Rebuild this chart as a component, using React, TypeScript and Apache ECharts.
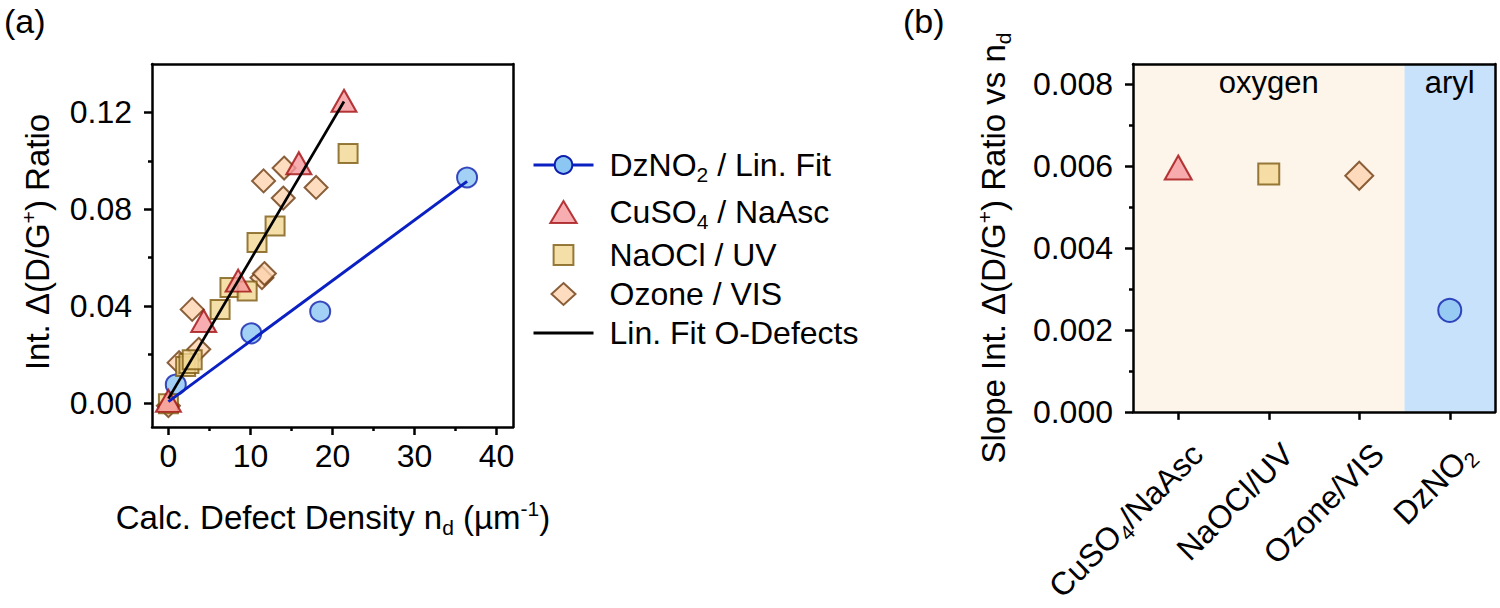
import React, { useEffect, useRef } from 'react';
import * as echarts from 'echarts';

// ---------- Data (panel a) ----------
const dzX = [0.9, 10.1, 18.5, 36.4];
const dzY = [0.0075, 0.0287, 0.0377, 0.0931];
const dzFitX = [0, 36.4];
const dzFitY = [0.0005, 0.0915];
const cuX = [0, 4.3, 8.5, 15.9, 21.4];
const cuY = [0.0008, 0.0338, 0.0505, 0.0990, 0.1248];
const naX = [0, 2.1, 2.5, 2.9, 6.3, 7.5, 9.6, 10.8, 13.0, 21.9];
const naY = [-0.0004, 0.0150, 0.0162, 0.0178, 0.0386, 0.0476, 0.0462, 0.0662, 0.0731, 0.1030];
const ozX = [0, 1.3, 2.9, 3.7, 11.4, 11.7, 11.6, 14.0, 14.1, 18.0];
const ozY = [-0.0012, 0.0166, 0.0386, 0.0221, 0.0517, 0.0534, 0.0917, 0.0846, 0.0970, 0.0890];
const oFitX = [0, 21.4];
const oFitY = [0.0017, 0.1245];
const xTicksA = [0, 10, 20, 30, 40];
const xMinorA = [5, 15, 25, 35];
const yTicksA = [0, 0.04, 0.08, 0.12];
const yMinorA = [0.02, 0.06, 0.1];

// ---------- Data (panel b) ----------
const catsB = ['CuSO4/NaAsc', 'NaOCl/UV', 'Ozone/VIS', 'DzNO2'];
const slopesB = [0.00597, 0.00581, 0.00577, 0.00248];
const yTicksB = [0, 0.002, 0.004, 0.006, 0.008];
const yMinorB = [0.001, 0.003, 0.005, 0.007];
const regionsB = [
  { name: 'oxygen', from: 0, to: 3 },
  { name: 'aryl', from: 3, to: 4 },
];

// ---------- Styles ----------
const F = '"Liberation Sans", Arial, Helvetica, sans-serif';
const BLACK = '#000';
const AX = { color: BLACK, width: 2.5 };
const circleSt = { color: '#8CC6F3', borderColor: '#0E1FAE', borderWidth: 2 };
const triSt = { color: '#F6999D', borderColor: '#A10E10', borderWidth: 2 };
const sqSt = { color: '#F3D794', borderColor: '#7C5A12', borderWidth: 2 };
const diaSt = { color: '#FDD3AF', borderColor: '#6C3B10', borderWidth: 2 };
const BLUE_LINE = '#0A20C2';
const TICK_FS = 32;
const TITLE_FS = 33;

const mkRich = (fs: number, lh = fs + 6) => ({
  n: { fontSize: fs, fontFamily: F, color: BLACK, lineHeight: lh },
  s: { fontSize: Math.round(fs * 0.65), fontFamily: F, color: BLACK, lineHeight: lh, padding: [Math.round(fs * 0.6), 0, 0, 0] },
  p: { fontSize: Math.round(fs * 0.65), fontFamily: F, color: BLACK, lineHeight: lh, padding: [0, 0, Math.round(fs * 0.55), 0] },
});

const N_DZ = 'DzNO2 / Lin. Fit';
const N_CU = 'CuSO4 / NaAsc';
const N_NA = 'NaOCl / UV';
const N_OZ = 'Ozone / VIS';
const N_OF = 'Lin. Fit O-Defects';
const legendRich: Record<string, string> = {
  [N_DZ]: '{n|DzNO}{s|2}{n| / Lin. Fit}',
  [N_CU]: '{n|CuSO}{s|4}{n| / NaAsc}',
  [N_NA]: '{n|NaOCl / UV}',
  [N_OZ]: '{n|Ozone / VIS}',
  [N_OF]: '{n|Lin. Fit O-Defects}',
};
const catRich: Record<string, string> = {
  'CuSO4/NaAsc': '{n|CuSO}{s|4}{n|/NaAsc}',
  'NaOCl/UV': '{n|NaOCl/UV}',
  'Ozone/VIS': '{n|Ozone/VIS}',
  DzNO2: '{n|DzNO}{s|2}',
};

const zip = (a: number[], b: number[]) => a.map((v, i) => [v, b[i]]);

const lineOnly = (gridIndex: number, position: string, min: number, max: number, z = 10) => ({
  gridIndex, type: 'value', position, min, max, z,
  axisLine: { show: true, onZero: false, lineStyle: AX },
  axisTick: { show: false }, axisLabel: { show: false }, splitLine: { show: false },
});
const minorAxis = (gridIndex: number, position: string, min: number, max: number, vals: number[]) => ({
  gridIndex, type: 'value', position, min, max, z: 10,
  axisLine: { show: false, onZero: false },
  axisTick: { show: true, customValues: vals, length: 4, lineStyle: AX },
  axisLabel: { show: false }, splitLine: { show: false },
});

const labelStyle = { fontSize: TICK_FS, fontFamily: F, color: BLACK };

const option: any = {
  animation: false,
  backgroundColor: '#fff',
  grid: [
    { left: 152, top: 64, width: 361, height: 363 },
    { left: 1133, top: 64, width: 362, height: 362 },
  ],
  xAxis: [
    {
      gridIndex: 0, type: 'value', position: 'bottom', min: -2, max: 42, z: 10,
      axisLine: { show: true, onZero: false, lineStyle: AX },
      axisTick: { show: true, customValues: xTicksA, length: 8, lineStyle: AX },
      axisLabel: { customValues: xTicksA, margin: 13, ...labelStyle },
      splitLine: { show: false },
    },
    minorAxis(0, 'bottom', -2, 42, xMinorA),
    lineOnly(0, 'top', -2, 42),
    {
      gridIndex: 1, type: 'category', position: 'bottom', data: catsB, boundaryGap: true, z: 10,
      axisLine: { show: true, onZero: false, lineStyle: AX },
      axisTick: { show: true, alignWithLabel: true, length: 8, lineStyle: AX },
      axisLabel: {
        interval: 0, rotate: 45, margin: 18, align: 'right', verticalAlign: 'top',
        formatter: (v: string) => catRich[v] || v,
        rich: mkRich(TICK_FS, 54),
      },
      splitLine: { show: false },
    },
    { gridIndex: 1, type: 'value', min: 0, max: 4, show: false, position: 'bottom', axisLine: { onZero: false } },
    lineOnly(1, 'top', 0, 4),
  ],
  yAxis: [
    {
      gridIndex: 0, type: 'value', position: 'left', min: -0.01, max: 0.14, z: 10,
      axisLine: { show: true, onZero: false, lineStyle: AX },
      axisTick: { show: true, customValues: yTicksA, length: 8, lineStyle: AX },
      axisLabel: { customValues: yTicksA, margin: 20, formatter: (v: number) => v.toFixed(2), ...labelStyle },
      splitLine: { show: false },
    },
    minorAxis(0, 'left', -0.01, 0.14, yMinorA),
    lineOnly(0, 'right', -0.01, 0.14),
    {
      gridIndex: 1, type: 'value', position: 'left', min: 0, max: 0.0085, z: 10,
      axisLine: { show: true, onZero: false, lineStyle: AX },
      axisTick: { show: true, customValues: yTicksB, length: 8, lineStyle: AX },
      axisLabel: { customValues: yTicksB, margin: 20, formatter: (v: number) => v.toFixed(3), ...labelStyle },
      splitLine: { show: false },
    },
    minorAxis(1, 'left', 0, 0.0085, yMinorB),
    lineOnly(1, 'right', 0, 0.0085),
  ],
  legend: {
    orient: 'vertical', left: 532, top: 145, padding: 0,
    itemWidth: 60, itemHeight: 22, itemGap: 7,
    selectedMode: false,
    lineStyle: { width: 3 },
    textStyle: { fontSize: 32, fontFamily: F, color: BLACK, padding: [0, 0, 0, 11], rich: mkRich(32) },
    formatter: (name: string) => legendRich[name] || name,
    data: [
      { name: N_DZ },
      { name: N_CU, icon: 'path://M12,0L24,20H0Z' },
      { name: N_NA, icon: 'path://M-1,-1M19,19M0,0H18V18H0Z' },
      { name: N_OZ, icon: 'path://M12,0L24,11L12,22L0,11Z' },
      { name: N_OF, icon: 'path://M0,0H60V3H0Z', itemStyle: { color: BLACK, borderWidth: 0 } },
    ],
  },
  series: [
    {
      type: 'line', name: N_DZ, xAxisIndex: 0, yAxisIndex: 0, data: zip(dzFitX, dzFitY),
      symbol: 'circle', symbolSize: 20, showSymbol: false, silent: true,
      lineStyle: { color: BLUE_LINE, width: 3 }, itemStyle: circleSt,
    },
    {
      type: 'line', name: N_OF, xAxisIndex: 0, yAxisIndex: 0, data: zip(oFitX, oFitY),
      symbol: 'none', silent: true, color: BLACK,
      lineStyle: { color: BLACK, width: 2.7 }, itemStyle: { color: BLACK },
    },
    {
      type: 'scatter', name: N_DZ, xAxisIndex: 0, yAxisIndex: 0, data: zip(dzX, dzY),
      symbol: 'circle', symbolSize: 20, itemStyle: circleSt,
    },
    {
      type: 'scatter', name: N_OZ, xAxisIndex: 0, yAxisIndex: 0, data: zip(ozX, ozY),
      symbol: 'diamond', symbolSize: [23, 23], itemStyle: diaSt,
    },
    {
      type: 'scatter', name: N_NA, xAxisIndex: 0, yAxisIndex: 0, data: zip(naX, naY),
      symbol: 'rect', symbolSize: 19, itemStyle: sqSt,
    },
    {
      type: 'scatter', name: N_CU, xAxisIndex: 0, yAxisIndex: 0, data: zip(cuX, cuY),
      symbol: 'triangle', symbolSize: [25, 22], itemStyle: triSt,
    },
    {
      type: 'scatter', name: 'slopes', xAxisIndex: 4, yAxisIndex: 3,
      data: catsB.map((c, i) => ({
        name: c,
        value: [i + 0.5, slopesB[i]],
        symbol: ['triangle', 'rect', 'diamond', 'circle'][i],
        symbolSize: [[27, 24], [21, 21], [28, 28], [23, 23]][i],
        itemStyle: [triSt, sqSt, diaSt, circleSt][i],
      })),
      markArea: {
        silent: true,
        label: { show: true, position: 'insideTop', distance: 3, fontSize: 31, fontFamily: F, color: BLACK },
        data: regionsB.map((r, i) => [
          { name: r.name, xAxis: r.from, itemStyle: { color: i === 0 ? '#FEF5EA' : '#C7E2FA' } },
          { xAxis: r.to },
        ]),
      },
    },
  ],
  graphic: [
    { type: 'text', x: 4, y: 4, style: { text: '(a)', fontSize: 34, fontFamily: F, fill: BLACK } },
    { type: 'text', x: 903, y: 4, style: { text: '(b)', fontSize: 34, fontFamily: F, fill: BLACK } },
    {
      type: 'text', x: 333, y: 517,
      style: {
        text: '{n|Calc. Defect Density n}{s|d}{n| (µm}{p|-1}{n|)}', rich: mkRich(TITLE_FS),
        align: 'center', verticalAlign: 'middle', textAlign: 'center', textVerticalAlign: 'middle',
      },
    },
    {
      type: 'text', x: 37, y: 242, rotation: Math.PI / 2,
      style: {
        text: '{n|Int. Δ(D/G}{p|+}{n|) Ratio}', rich: mkRich(TITLE_FS),
        align: 'center', verticalAlign: 'middle', textAlign: 'center', textVerticalAlign: 'middle',
      },
    },
    {
      type: 'text', x: 993, y: 248, rotation: Math.PI / 2,
      style: {
        text: '{n|Slope Int. Δ(D/G}{p|+}{n|) Ratio vs n}{s|d}', rich: mkRich(TITLE_FS),
        align: 'center', verticalAlign: 'middle', textAlign: 'center', textVerticalAlign: 'middle',
      },
    },
  ],
};

export default function App() {
  const ref = useRef<HTMLDivElement>(null);
  useEffect(() => {
    if (!ref.current) return;
    const chart = echarts.init(ref.current, null, { renderer: 'svg', width: 1500, height: 608 });
    chart.setOption(option);
    return () => chart.dispose();
  }, []);
  return (
    <div
      ref={ref}
      style={{ position: 'fixed', left: 0, top: 0, width: 1500, height: 608, background: '#fff' }}
    />
  );
}
